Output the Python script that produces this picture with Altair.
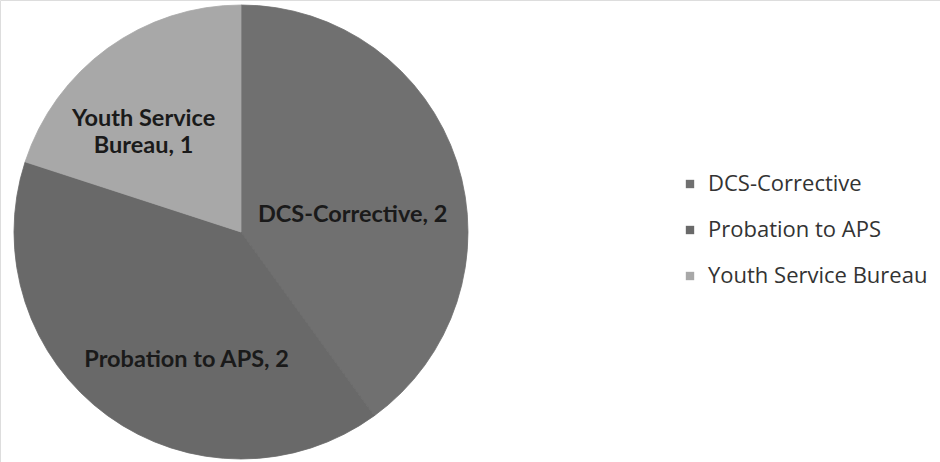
import altair as alt
import pandas as pd

# Referral outcomes and their counts
categories = ["DCS-Corrective", "Probation to APS", "Youth Service Bureau"]
counts = [2, 2, 1]
slice_labels = ["DCS-Corrective, 2", "Probation to APS, 2", "Youth Service\nBureau, 1"]
slice_colors = ["#707070", "#696969", "#a8a8a8"]

df = pd.DataFrame({
    "category": categories,
    "count": counts,
    "label": slice_labels,
    "order": list(range(len(categories))),
})

CX, CY, R = 241, 232, 227
TOTAL = sum(counts)
color_scale = alt.Scale(domain=categories, range=slice_colors)

pie = alt.Chart(df).mark_arc(radius=R, strokeWidth=0.8).encode(
    theta=alt.Theta("count:Q", stack=True),
    order=alt.Order("order:Q"),
    x=alt.value(CX),
    y=alt.value(CY),
    stroke=alt.Stroke("category:N", scale=color_scale, legend=None),
    color=alt.Color(
        "category:N",
        scale=color_scale,
        legend=alt.Legend(
            title=None,
            orient="none",
            legendX=679,
            legendY=173,
            symbolType="square",
            symbolSize=70,
            symbolStrokeWidth=0,
            labelFont="Open Sans",
            labelFontSize=22,
            labelColor="#333333",
            labelLimit=400,
            rowPadding=24,
            labelOffset=7,
        ),
    ),
)

# per-slice nudges so labels sit where the layout puts them
offsets = {
    "DCS-Corrective": (-12, 23),
    "Probation to APS": (22, 23),
    "Youth Service Bureau": (-21, -8),
}

label_layers = []
for cat in categories:
    dx, dy = offsets[cat]
    label_layers.append(
        alt.Chart(df)
        .transform_stack(stack="count", groupby=[], as_=["t0", "t1"], sort=[alt.SortField("order")])
        .transform_calculate(mid="(datum.t0 + datum.t1) / 2")
        .transform_filter(alt.datum.category == cat)
        .mark_text(
            radius=130,
            font="Lato",
            fontSize=23.5,
            fontWeight="bold",
            color="#1a1a1a",
            lineBreak="\n",
            lineHeight=27,
            dx=dx,
            dy=dy,
        )
        .encode(
            theta=alt.Theta("mid:Q", scale=alt.Scale(domain=[0, TOTAL]), stack=None),
            x=alt.value(CX),
            y=alt.value(CY),
            text="label:N",
        )
    )

chart = alt.layer(pie, *label_layers).properties(
    width=940,
    height=462,
    padding=0,
    autosize="none",
).configure_view(stroke=None).configure(background="white")

chart.save("out.html", embed_options={"renderer": "svg", "actions": False})
